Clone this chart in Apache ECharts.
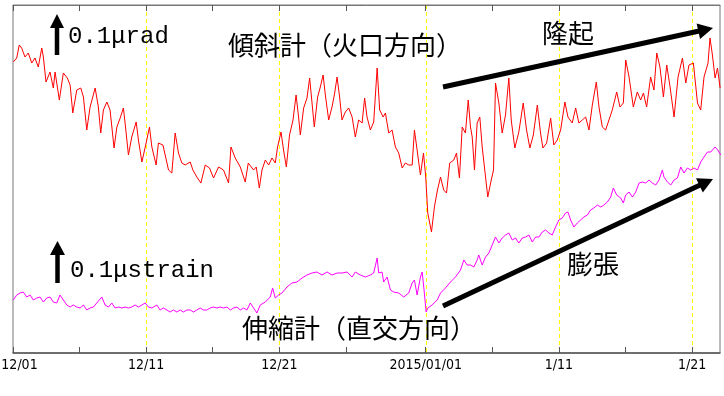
<!DOCTYPE html>
<html>
<head>
<meta charset="utf-8">
<script src="https://cdn.jsdelivr.net/npm/echarts@6/dist/echarts.min.js"></script>
<style>
html,body{margin:0;padding:0;background:#fff;}
#chart{width:724px;height:396px;}
</style>
</head>
<body>
<div id="chart"></div>
<script>
// x values: days since 2014-12-01 00:00
var tiltDays = [0.02,0.28,0.47,0.65,0.90,1.15,1.41,1.65,1.90,2.16,2.28,2.48,2.78,3.03,3.16,3.48,3.78,4.08,4.29,4.49,4.79,5.09,5.29,5.54,5.79,6.17,6.41,6.59,6.79,7.05,7.29,7.59,7.80,8.05,8.29,8.42,8.67,8.92,9.25,9.42,9.68,10.0,10.25,10.43,10.75,10.92,11.26,11.43,11.68,11.93,12.18,12.43,12.68,12.93,13.31,13.51,13.81,14.11,14.44,14.76,15.06,15.44,15.81,16.19,16.37,16.69,17.07,17.44,17.67,17.82,18.07,18.27,18.50,18.70,18.95,19.20,19.45,19.70,19.87,20.13,20.32,20.53,20.77,21.03,21.26,21.45,21.58,21.83,22.08,22.28,22.46,22.63,22.88,23.08,23.29,23.46,23.71,23.96,24.16,24.34,24.53,24.71,24.96,25.21,25.47,25.71,25.96,26.22,26.41,26.59,26.84,27.09,27.35,27.54,27.80,27.97,28.22,28.47,28.72,28.97,29.23,29.47,29.72,29.98,30.15,30.35,30.60,30.83,31.0,31.15,31.43,31.65,31.88,32.11,32.35,32.56,32.80,33.11,33.31,33.53,33.74,33.98,34.19,34.36,34.49,34.66,34.86,35.06,35.24,35.49,35.66,35.92,36.09,36.24,36.49,36.74,36.99,37.24,37.42,37.69,37.99,38.32,38.57,38.82,39.08,39.38,39.62,39.80,40.08,40.38,40.62,40.88,41.13,41.45,41.68,42.0,42.26,42.50,42.76,43.01,43.26,43.51,43.81,44.01,44.26,44.51,44.76,45.01,45.34,45.59,45.84,46.02,46.27,46.59,46.89,47.14,47.35,47.59,47.89,48.14,48.35,48.59,48.85,49.10,49.35,49.65,49.95,50.28,50.53,50.77,51.10,51.41,51.65,51.90,52.20,52.35,52.53,52.73,52.91,53.11];
var tiltValues = [291,295,308,305,296,300,290,295,286,305,296,271,281,265,281,253,280,275,268,240,263,265,256,223,246,265,246,220,243,251,243,205,226,235,245,230,198,216,231,213,191,210,226,206,188,210,208,198,183,180,220,200,190,188,191,183,176,170,188,185,175,186,183,170,206,195,186,171,190,190,183,186,165,183,193,188,195,190,206,221,203,186,218,233,258,236,218,245,255,275,250,226,256,266,278,258,233,246,260,276,256,233,241,245,236,216,233,230,255,236,223,231,285,243,236,240,220,223,206,200,185,190,188,188,223,203,178,200,176,140,121,146,163,176,163,160,190,193,200,175,226,220,253,226,216,183,230,236,206,176,156,173,183,270,250,220,238,275,233,205,221,250,223,205,218,248,220,205,210,235,208,213,223,251,236,230,245,230,233,236,223,248,271,246,226,223,233,243,261,246,250,293,276,246,261,253,260,246,276,263,300,286,256,288,266,236,276,295,270,288,290,250,243,276,290,315,298,275,285,265];

var strainDays = [0.02,0.28,0.53,0.77,1.03,1.28,1.53,1.78,2.03,2.28,2.53,2.78,3.03,3.29,3.53,3.78,4.04,4.29,4.53,4.79,5.04,5.29,5.54,5.79,6.04,6.29,6.67,6.92,7.17,7.42,7.67,7.92,8.17,8.42,8.67,8.92,9.17,9.42,9.68,9.92,10.17,10.43,10.80,11.05,11.30,11.56,11.80,12.05,12.31,12.56,12.80,13.06,13.31,13.56,13.81,14.06,14.31,14.56,14.81,15.06,15.32,15.56,15.81,16.07,16.32,16.56,16.82,17.07,17.32,17.57,17.82,18.07,18.32,18.57,18.95,19.32,19.50,19.70,19.95,20.20,20.58,20.95,21.33,21.71,22.08,22.46,22.83,23.21,23.59,23.96,24.34,24.71,25.09,25.47,25.71,26.09,26.47,26.84,27.09,27.35,27.47,27.72,27.84,28.10,28.35,28.59,28.97,29.35,29.72,29.98,30.15,30.35,30.60,30.73,30.85,31.03,31.15,31.48,31.86,32.11,32.48,32.86,33.23,33.61,33.86,34.11,34.36,34.61,34.86,34.98,35.24,35.49,35.74,35.99,36.24,36.49,36.74,36.99,37.24,37.50,37.74,37.99,38.25,38.50,38.75,39.0,39.25,39.50,39.75,40.0,40.25,40.50,40.75,41.0,41.25,41.50,41.68,41.88,42.13,42.38,42.63,42.88,43.14,43.38,43.63,43.89,44.14,44.38,44.64,44.89,45.09,45.34,45.64,45.84,46.02,46.27,46.52,46.77,47.02,47.27,47.52,47.77,48.02,48.27,48.52,48.77,48.89,49.15,49.40,49.65,49.90,50.15,50.40,50.65,50.90,51.15,51.41,51.65,51.90,52.16,52.41,52.73,52.93,53.16];
var strainValues = [53,58,60,61,56,58,53,55,56,51,55,56,51,50,58,53,48,46,48,46,45,48,43,45,46,50,56,48,46,50,45,46,45,46,45,46,48,46,48,50,46,45,48,43,45,43,41,43,41,43,41,43,43,41,43,45,43,43,45,46,45,46,45,46,43,45,46,43,45,43,50,45,40,48,51,56,65,55,58,60,66,70,71,75,78,80,81,78,81,78,80,80,81,76,81,78,76,78,80,95,80,81,71,76,63,61,60,56,60,70,73,58,76,81,66,41,45,48,53,60,65,71,76,83,93,88,88,86,93,98,88,96,100,108,116,110,115,118,120,113,115,110,115,116,118,111,116,116,121,123,120,118,126,133,135,140,141,133,126,130,133,136,138,143,145,148,146,148,151,156,165,158,155,150,158,161,156,161,170,171,170,173,170,168,173,183,176,171,168,173,175,186,180,185,183,185,183,191,196,201,201,206,203,198];

var tickDays = [0,5,10,15,20,25,31,36,41,46,51];
var labelDays = [0,10,20,31,41,51];
var labelTexts = ['12/01','12/11','12/21','2015/01/01','1/11','1/21'];
var guideDays = [10,20,31,41,51];

var chart = echarts.init(document.getElementById('chart'), null, {renderer:'canvas'});

function arrow(x1,y1,x2,y2,w,hl,hw){
  var dx=x2-x1, dy=y2-y1, L=Math.sqrt(dx*dx+dy*dy), ux=dx/L, uy=dy/L;
  var bx=x2-ux*hl, by=y2-uy*hl, px=-uy, py=ux;
  return [
    {type:'line', silent:true, z:10, shape:{x1:x1,y1:y1,x2:bx+ux*2,y2:by+uy*2}, style:{stroke:'#000', lineWidth:w}},
    {type:'polygon', silent:true, z:10, shape:{points:[[x2,y2],[bx+px*hw,by+py*hw],[bx-px*hw,by-py*hw]]}, style:{fill:'#000'}}
  ];
}
function txt(x,y,t,size,family){
  return {type:'text', silent:true, z:10, x:x, y:y, style:{text:t, fontSize:size, fontFamily:family, fill:'#000', align:'left', verticalAlign:'middle'}};
}
var cjk = '"Noto Sans CJK JP", "Noto Sans CJK SC", sans-serif';
var mono = '"Liberation Mono", "DejaVu Sans Mono", monospace';
var graphics = [].concat(
  arrow(57,55,57,14,4.5,14,7),
  arrow(57.5,283,57.5,241,4.5,14,7.5),
  arrow(443,87,713,28,5,15,8),
  arrow(443,306,713,179,5,15,8),
  [
    txt(68,37,'0.1\u03bcrad',24,mono),
    txt(70,271,'0.1\u03bcstrain',24,mono),
    txt(228,45,'傾斜計（火口方向）',26,cjk),
    txt(542,33,'隆起',26,cjk),
    txt(567,264,'膨張',26,cjk),
    txt(242,328,'伸縮計（直交方向）',26,cjk)
  ]
);

var axisFont = '"Liberation Sans Narrow", "DejaVu Sans Condensed", "Roboto Condensed", "Liberation Sans", sans-serif';
var option = {
  animation:false,
  backgroundColor:'#fff',
  grid:{left:13, right:4, top:5, bottom:43, containLabel:false, outerBoundsMode:'none',
        show:true, borderColor:'#777', borderWidth:1, backgroundColor:'transparent'},
  xAxis:[
    {type:'value', min:0, max:53.1, position:'bottom', z:5,
     axisLine:{show:true, onZero:false, lineStyle:{color:'#555', width:1.5}},
     axisTick:{show:true, inside:true, length:6, customValues:tickDays, lineStyle:{color:'#555'}},
     axisLabel:{show:true, customValues:labelDays, margin:5, color:'#000', fontSize:14, fontFamily:axisFont,
       formatter:function(v){ var i=labelDays.indexOf(Math.round(v)); if(i===0){return '{f|'+labelTexts[0]+'}';} return i>=0?labelTexts[i]:''; },
       rich:{f:{padding:[0,0,0,13], fontSize:14, fontFamily:axisFont, color:'#000'}}},
     splitLine:{show:false}},
    {type:'value', min:0, max:53.1, position:'top', z:5,
     axisLine:{show:true, onZero:false, lineStyle:{color:'#777', width:1}},
     axisTick:{show:true, inside:true, length:6, customValues:tickDays, lineStyle:{color:'#555'}},
     axisLabel:{show:false}, splitLine:{show:false}}
  ],
  yAxis:{type:'value', min:0, max:348, show:true, axisLine:{show:false}, axisTick:{show:false}, axisLabel:{show:false}, splitLine:{show:false}},
  series:[
    {type:'line', name:'tilt', xAxisIndex:0, showSymbol:false, data:tiltDays.map(function(d,i){return [d,tiltValues[i]];}),
     lineStyle:{color:'#ff0000', width:1}, itemStyle:{color:'#ff0000'}, silent:true, z:3},
    {type:'line', name:'strain', xAxisIndex:0, showSymbol:false, data:strainDays.map(function(d,i){return [d,strainValues[i]];}),
     lineStyle:{color:'#ff00ff', width:1}, itemStyle:{color:'#ff00ff'}, silent:true, z:3}
  ],
  graphic:graphics
};
chart.setOption(option);

// yellow dashed guide lines at labelled dates, positioned through the x scale (snapped to crisp pixels)
var yTop = chart.convertToPixel({yAxisIndex:0}, 348);
var yBot = chart.convertToPixel({yAxisIndex:0}, 0);
var guides = guideDays.map(function(d){
  var px = Math.round(chart.convertToPixel({xAxisIndex:0}, d)) + 0.5;
  return {type:'line', silent:true, z:1, shape:{x1:px, y1:yTop, x2:px, y2:yBot},
          style:{stroke:'#ffff00', lineWidth:1, lineDash:[4,3]}};
});
chart.setOption({graphic:graphics.concat(guides)});
</script>
</body>
</html>
